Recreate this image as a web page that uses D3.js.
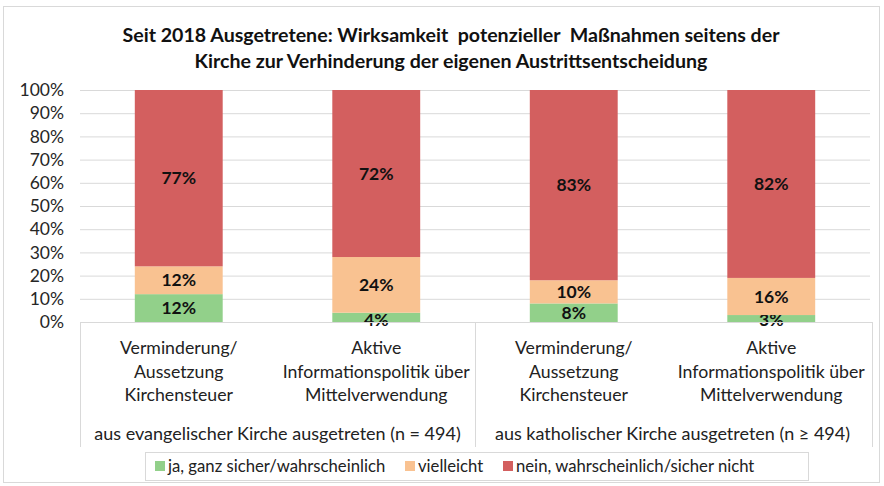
<!DOCTYPE html>
<html>
<head>
<meta charset="utf-8">
<script src="https://cdn.jsdelivr.net/npm/d3@7"></script>
<style>
  body { margin: 0; background: #fff; }
  text { font-family: Lato, "Open Sans", sans-serif; }
</style>
</head>
<body>
<div class="canvas"></div>
<script>
// data
const categories = ['ev1', 'ev2', 'kat1', 'kat2'];
const categoryLines = [
    ['Verminderung/', 'Aussetzung', 'Kirchensteuer'],
    ['Aktive', 'Informationspolitik über', 'Mittelverwendung'],
    ['Verminderung/', 'Aussetzung', 'Kirchensteuer'],
    ['Aktive', 'Informationspolitik über', 'Mittelverwendung']
];
const groups = ['aus evangelischer Kirche ausgetreten (n = 494)', 'aus katholischer Kirche ausgetreten (n ≥ 494)'];
const seriesNames = ['ja, ganz sicher/wahrscheinlich', 'vielleicht', 'nein, wahrscheinlich/sicher nicht'];
const ja = [12, 4, 8, 3];
const vielleicht = [12, 24, 10, 16];
const nein = [77, 72, 83, 82];
const yTicks = [0, 10, 20, 30, 40, 50, 60, 70, 80, 90, 100];
const titleLines = [
    'Seit 2018 Ausgetretene: Wirksamkeit  potenzieller  Maßnahmen seitens der',
    'Kirche zur Verhinderung der eigenen Austrittsentscheidung'
];

const colors = ['#92d08a', '#f9c291', '#d35f5f'];

const width = 884, height = 486;
const margin = { top: 90, right: 14, bottom: 164, left: 80 };
const graphWidth = width - margin.left - margin.right;
const graphHeight = height - margin.top - margin.bottom;

const svg = d3.select('.canvas')
    .append('svg')
    .attr('width', width)
    .attr('height', height);

// outer frame
svg.append('rect')
    .attr('x', 3.5).attr('y', 6.5)
    .attr('width', 876).attr('height', 476)
    .attr('fill', 'none')
    .attr('stroke', '#d9d9d9');

// title
svg.append('g').selectAll('text')
    .data(titleLines)
    .join('text')
    .attr('x', 451)
    .attr('y', (d, i) => 42 + i * 26)
    .attr('text-anchor', 'middle')
    .attr('font-size', 19.6)
    .attr('font-weight', 'bold')
    .attr('fill', '#111')
    .style('white-space', 'pre')
    .text(d => d);

const graph = svg.append('g')
    .attr('transform', `translate(${margin.left},${margin.top})`);

// scales
const y = d3.scaleLinear().domain([0, 100]).range([graphHeight, 0]);
const x = d3.scaleBand()
    .domain(categories)
    .range([0, graphWidth])
    .paddingInner(0.555)
    .paddingOuter(0.2775);

// gridlines + y axis
const yAxis = d3.axisLeft(y)
    .tickValues(yTicks)
    .tickFormat(d => d + '%')
    .tickSize(-graphWidth)
    .tickPadding(16);

const yAxisGroup = graph.append('g').call(yAxis);
yAxisGroup.select('.domain').remove();
yAxisGroup.selectAll('line').attr('stroke', '#d9d9d9');
yAxisGroup.selectAll('text')
    .attr('font-size', 17.5)
    .attr('fill', '#262626')
    .attr('font-family', 'Lato, sans-serif');

// stacked bars
const rows = categories.map((c, i) => ({ cat: c, s0: ja[i], s1: vielleicht[i], s2: nein[i] }));
const stack = d3.stack().keys(['s0', 's1', 's2']);
const layers = stack(rows);

const layer = graph.selectAll('g.layer')
    .data(layers)
    .join('g')
    .attr('class', 'layer')
    .attr('fill', (d, i) => colors[i]);

layer.selectAll('rect')
    .data(d => d)
    .join('rect')
    .attr('x', d => x(d.data.cat))
    .attr('width', x.bandwidth())
    .attr('y', d => y(Math.min(d[1], 100)))
    .attr('height', d => y(d[0]) - y(Math.min(d[1], 100)));

// value labels
layer.selectAll('text')
    .data(d => d.map(p => ({ p, key: d.key })))
    .join('text')
    .attr('x', d => x(d.p.data.cat) + x.bandwidth() / 2)
    .attr('y', d => {
        let mid = y((d.p[0] + Math.min(d.p[1], 100)) / 2);
        // small segments: keep label readable near the base
        if (d.p[1] - d.p[0] < 5) mid = y(d.p[0]) - 2;
        return mid;
    })
    .attr('dy', '0.35em')
    .attr('text-anchor', 'middle')
    .attr('font-size', 17.5)
    .attr('font-weight', 'bold')
    .attr('fill', '#111')
    .text(d => d.p.data[d.key] + '%');

// category box
const boxBottom = graphHeight + 125;
const boxLines = graph.append('g').attr('stroke', '#d9d9d9').attr('fill', 'none');
boxLines.append('line')
    .attr('x1', 0).attr('x2', graphWidth + 2)
    .attr('y1', graphHeight + 0.5).attr('y2', graphHeight + 0.5);
[0, graphWidth / 2, graphWidth + 2].forEach(xv => {
    boxLines.append('line')
        .attr('x1', xv + 0.5).attr('x2', xv + 0.5)
        .attr('y1', graphHeight).attr('y2', boxBottom);
});

// category labels
const catLabels = graph.append('g')
    .selectAll('text')
    .data(categories)
    .join('text')
    .attr('text-anchor', 'middle')
    .attr('font-size', 17.7)
    .attr('fill', '#222')
    .attr('transform', d => `translate(${x(d) + x.bandwidth() / 2},${graphHeight + 32})`);

catLabels.selectAll('tspan')
    .data((d, i) => categoryLines[i])
    .join('tspan')
    .attr('x', 0)
    .attr('y', (d, i) => i * 23.5)
    .text(d => d);

// group labels
graph.append('g')
    .selectAll('text')
    .data(groups)
    .join('text')
    .attr('x', (d, i) => graphWidth / 4 + i * graphWidth / 2)
    .attr('y', graphHeight + 118)
    .attr('text-anchor', 'middle')
    .attr('font-size', 18)
    .attr('fill', '#222')
    .text(d => d);

// legend
const legend = svg.append('g').attr('transform', 'translate(145,452)');
legend.append('rect')
    .attr('x', 0.5).attr('y', 0.5)
    .attr('width', 663).attr('height', 28)
    .attr('fill', '#fff')
    .attr('stroke', '#d9d9d9');

const legendX = [10, 260, 358];
const items = legend.selectAll('g.item')
    .data(seriesNames)
    .join('g')
    .attr('class', 'item')
    .attr('transform', (d, i) => `translate(${legendX[i]},0)`);

items.append('rect')
    .attr('x', 0).attr('y', 9)
    .attr('width', 10).attr('height', 10)
    .attr('fill', (d, i) => colors[i]);

items.append('text')
    .attr('x', 13)
    .attr('y', 20)
    .attr('font-size', 16.7)
    .attr('fill', '#222')
    .text(d => d);
</script>
</body>
</html>
